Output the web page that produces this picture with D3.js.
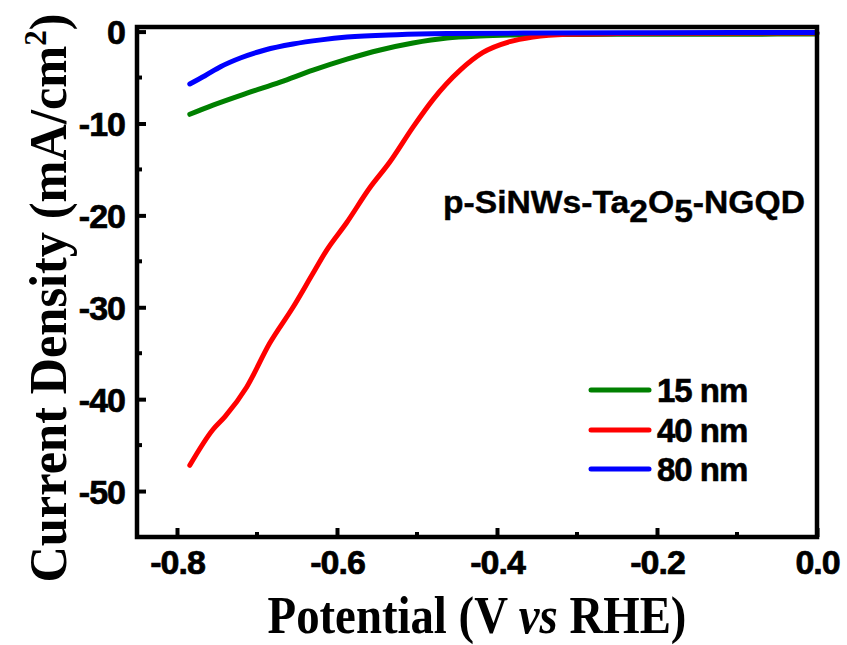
<!DOCTYPE html>
<html>
<head>
<meta charset="utf-8">
<script src="https://cdn.jsdelivr.net/npm/d3@7"></script>
<style>
body { margin: 0; background: #fff; }
svg { display: block; }
.tickLabel { font-family: "Liberation Sans", Arial, sans-serif; font-weight: bold; font-size: 34px; letter-spacing: -1px; stroke: #000; stroke-width: 0.7px; }
.axisTitle { font-family: "Liberation Serif", "Times New Roman", serif; font-weight: bold; font-size: 52px; }
.legendText { font-family: "Liberation Sans", Arial, sans-serif; font-weight: bold; font-size: 33px; letter-spacing: -1px; stroke: #000; stroke-width: 0.6px; }
.note { font-family: "Liberation Sans", Arial, sans-serif; font-weight: bold; font-size: 31px; stroke: #000; stroke-width: 0.4px; }
</style>
</head>
<body>
<div class="chart"></div>
<script>
var width = 847,
height = 645,
padLeft = 137,
padRight = 817,
padTop = 27,
padBottom = 537;

// ---- data ----
var xTicks = [-0.8, -0.6, -0.4, -0.2, 0.0];
var xMinor = [-0.7, -0.5, -0.3, -0.1];
var yTicks = [0, -10, -20, -30, -40, -50];
var yMinor = [-5, -15, -25, -35, -45];

var seriesNames = ["15 nm", "40 nm", "80 nm"];
var seriesColors = ["#008000", "#ff0000", "#0000ff"];

var greenX = [-0.784, -0.755, -0.7125, -0.671, -0.63, -0.5875, -0.546, -0.505, -0.4625, -0.421, -0.38, -0.3375, -0.25, -0.1, 0];
var greenY = [-9.0, -8.0, -6.7, -5.5, -4.2, -3.0, -2.0, -1.24, -0.7, -0.48, -0.37, -0.32, -0.3, -0.28, -0.27];

var redX = [-0.784, -0.755, -0.74, -0.713, -0.684, -0.655, -0.63, -0.613, -0.588, -0.559, -0.534, -0.505, -0.48, -0.446, -0.418, -0.384, -0.355, -0.3125, -0.25, -0.15, 0];
var redY = [-47.2, -43.3, -41.9, -38.7, -33.9, -30.0, -26.3, -23.8, -20.8, -17.0, -14.2, -10.4, -7.4, -4.2, -2.3, -1.1, -0.6, -0.3, -0.22, -0.18, -0.15];

var blueX = [-0.784, -0.765, -0.745, -0.72, -0.69, -0.655, -0.62, -0.5875, -0.525, -0.4625, -0.35, -0.2, 0];
var blueY = [-5.7, -4.8, -3.8, -2.85, -2.0, -1.35, -0.9, -0.6, -0.34, -0.22, -0.15, -0.12, -0.1];

var allX = [greenX, redX, blueX];
var allY = [greenY, redY, blueY];

var canvas = d3.select('div.chart')
	.append('svg')
	.attr('width', width)
	.attr('height', height);

var xScale = d3.scaleLinear().domain([-0.85, 0]).range([padLeft, padRight]);
var yScale = d3.scaleLinear().domain([-55, 0.5]).range([padBottom, padTop]);

// curves
var line = d3.line()
	.x(function(d){ return xScale(d[0]); })
	.y(function(d){ return yScale(d[1]); })
	.curve(d3.curveMonotoneX);

for (var s = 0; s < allX.length; s++){
	var pts = d3.zip(allX[s], allY[s]);
	canvas.append('path')
		.datum(pts)
		.attr('fill', 'none')
		.attr('stroke', seriesColors[s])
		.attr('stroke-width', 5)
		.attr('stroke-linecap', 'round')
		.attr('stroke-linejoin', 'round')
		.attr('d', line);
}

// bottom axis, ticks pointing inward
var xAxis = canvas.append('g')
	.attr('transform', 'translate(0,' + padBottom + ')')
	.call(d3.axisBottom(xScale).tickValues(xTicks).tickSizeInner(-9).tickSizeOuter(0));
xAxis.selectAll('.tick line').attr('stroke-width', 4);
xAxis.selectAll('.tick text')
	.attr('class', 'tickLabel')
	.attr('y', 37)
	.attr('dy', 0)
	.attr('fill', '#000')
	.text(function(d){ return d3.format('.1f')(d).replace('−', '-'); });
xAxis.select('.domain').remove();

canvas.append('g').selectAll('line')
	.data(xMinor).enter().append('line')
	.attr('x1', function(d){ return xScale(d); })
	.attr('x2', function(d){ return xScale(d); })
	.attr('y1', padBottom)
	.attr('y2', padBottom - 5)
	.attr('stroke', '#000')
	.attr('stroke-width', 4);

// left axis
var yAxis = canvas.append('g')
	.attr('transform', 'translate(' + padLeft + ',0)')
	.call(d3.axisLeft(yScale).tickValues(yTicks).tickSizeInner(-9).tickSizeOuter(0));
yAxis.selectAll('.tick line').attr('stroke-width', 4);
yAxis.selectAll('.tick text')
	.attr('class', 'tickLabel')
	.attr('x', -12)
	.attr('dy', '0.36em')
	.attr('fill', '#000')
	.text(function(d){ return String(d); });
yAxis.select('.domain').remove();

canvas.append('g').selectAll('line')
	.data(yMinor).enter().append('line')
	.attr('x1', padLeft)
	.attr('x2', padLeft + 5)
	.attr('y1', function(d){ return yScale(d); })
	.attr('y2', function(d){ return yScale(d); })
	.attr('stroke', '#000')
	.attr('stroke-width', 4);

// frame
canvas.append('rect')
	.attr('x', padLeft)
	.attr('y', padTop)
	.attr('width', padRight - padLeft)
	.attr('height', padBottom - padTop)
	.attr('fill', 'none')
	.attr('stroke', '#000')
	.attr('stroke-width', 4.5);

// axis titles (squeezed a bit horizontally like the original)
var xt = canvas.append('text')
	.attr('class', 'axisTitle')
	.attr('transform', 'translate(477,633) scale(0.9,1)')
	.attr('font-size', '50px')
	.attr('text-anchor', 'middle');
xt.append('tspan').text('Potential (V ');
xt.append('tspan').attr('font-style', 'italic').text('vs');
xt.append('tspan').text(' RHE)');

var yt = canvas.append('text')
	.attr('class', 'axisTitle')
	.attr('transform', 'translate(66,298) rotate(-90) scale(0.97,1)')
	.attr('text-anchor', 'middle');
yt.append('tspan').text('Current Density (mA/cm');
yt.append('tspan').attr('font-size', '32px').attr('dy', -20).text('2');
yt.append('tspan').attr('dy', 20).text(')');

// annotation
var note = canvas.append('text')
	.attr('class', 'note')
	.attr('x', 443)
	.attr('y', 213)
	.attr('textLength', 362)
	.attr('lengthAdjust', 'spacingAndGlyphs');
note.append('tspan').text('p-SiNWs-Ta');
note.append('tspan').attr('dy', 9).text('2');
note.append('tspan').attr('dy', -9).text('O');
note.append('tspan').attr('dy', 9).text('5');
note.append('tspan').attr('dy', -9).text('-NGQD');

// legend
var legendY = [390, 430, 469];
var legend = canvas.append('g');
for (var k = 0; k < seriesNames.length; k++){
	legend.append('line')
		.attr('x1', 591).attr('x2', 649)
		.attr('y1', legendY[k]).attr('y2', legendY[k])
		.attr('stroke', seriesColors[k])
		.attr('stroke-width', 5)
		.attr('stroke-linecap', 'round');
	legend.append('text')
		.attr('class', 'legendText')
		.attr('x', 657)
		.attr('y', legendY[k])
		.attr('dy', '0.36em')
		.text(seriesNames[k]);
}
</script>
</body>
</html>
